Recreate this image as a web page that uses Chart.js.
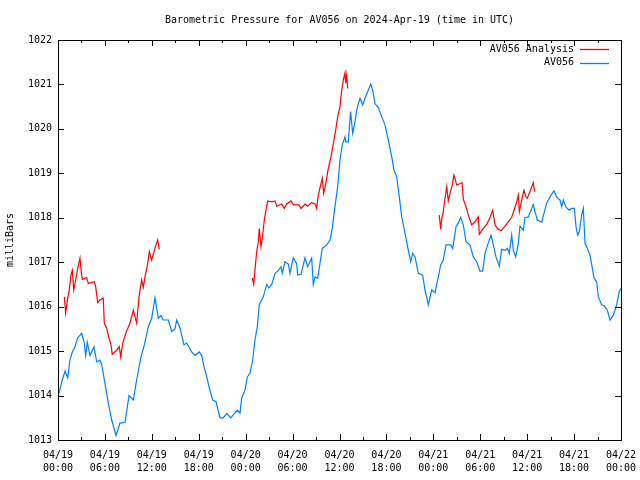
<!DOCTYPE html>
<html>
<head>
<meta charset="utf-8">
<script src="https://cdn.jsdelivr.net/npm/chart.js@4.4.1/dist/chart.umd.min.js"></script>
<style>
  html, body { margin: 0; padding: 0; background: #fff; }
  #box { width: 640px; height: 480px; }
</style>
</head>
<body>
<div id="box"><canvas id="pressureChart" width="640" height="480"></canvas></div>
<script>
// hours since 04/19 00:00 UTC, pressure in mb
const blueHours = [0.13, 0.47, 0.90, 1.24, 1.53, 1.83, 2.17, 2.52, 3.03, 3.36, 3.54, 3.75, 4.09, 4.60, 4.95, 5.37, 5.59,
  6.01, 6.43, 6.87, 7.42, 7.93, 8.57, 9.08, 9.63, 10.06, 10.61, 11.04, 11.55, 11.98, 12.41, 12.83, 13.17, 13.47,
  14.11, 14.54, 14.96, 15.18, 15.60, 16.11, 16.46, 17.10, 17.52, 18.07, 18.38, 18.67, 19.02, 19.35, 19.78, 20.21,
  20.72, 21.14, 21.57, 22.09, 22.64, 22.93, 23.28, 23.49, 23.91, 24.21, 24.55, 24.90, 25.19, 25.49, 25.74, 26.26,
  26.69, 26.98, 27.33, 27.75, 28.17, 28.52, 28.68, 29.03, 29.45, 29.67, 30.09, 30.53, 30.65, 31.08, 31.59, 31.93,
  32.44, 32.65, 32.87, 33.21, 33.51, 33.80, 34.36, 34.79, 35.08, 35.42, 35.77, 36.06, 36.36, 36.70, 36.79, 37.13,
  37.41, 37.69, 37.98, 38.20, 38.40, 38.62, 38.97, 39.26, 39.68, 39.99, 40.25, 40.54, 40.96, 41.40, 41.82, 42.24,
  42.68, 42.97, 43.32, 43.65, 43.96, 44.38, 44.80, 45.11, 45.36, 45.66, 46.08, 46.64, 46.93, 47.36, 47.79, 48.21,
  48.64, 48.94, 49.27, 49.62, 50.22, 50.48, 50.90, 51.19, 51.50, 51.83, 52.18, 52.69, 53.11, 53.55, 53.97, 54.31,
  54.61, 54.95, 55.37, 55.67, 56.01, 56.44, 56.74, 57.17, 57.46, 57.72, 58.02, 58.23, 58.53, 58.87, 59.08, 59.51,
  59.72, 60.15, 60.49, 60.78, 61.00, 61.30, 61.86, 62.15, 62.50, 62.92, 63.43, 63.78, 64.20, 64.42, 64.62, 64.97,
  65.39, 65.70, 66.03, 66.25, 66.46, 66.67, 66.97, 67.18, 67.40, 67.61, 68.04, 68.38, 68.55, 68.89, 69.10, 69.53,
  69.83, 70.25, 70.60, 71.02, 71.45, 71.78, 72.00];
const blueValues = [1014.05, 1014.3, 1014.55, 1014.4, 1014.8, 1014.98, 1015.1, 1015.3, 1015.4, 1015.18, 1014.9, 1015.2, 1014.9, 1015.1, 1014.76, 1014.8, 1014.7,
  1014.27, 1013.83, 1013.45, 1013.1, 1013.38, 1013.4, 1014.0, 1013.9, 1014.35, 1014.87, 1015.14, 1015.55, 1015.74, 1016.2, 1015.74, 1015.8, 1015.7,
  1015.7, 1015.44, 1015.5, 1015.7, 1015.52, 1015.14, 1015.18, 1014.98, 1014.9, 1014.98, 1014.9, 1014.65, 1014.42, 1014.17, 1013.9, 1013.86,
  1013.5, 1013.5, 1013.6, 1013.5, 1013.61, 1013.67, 1013.61, 1013.94, 1014.12, 1014.42, 1014.5, 1014.8, 1015.25, 1015.55, 1016.04, 1016.22,
  1016.5, 1016.42, 1016.5, 1016.75, 1016.81, 1016.9, 1016.75, 1017.01, 1016.96, 1016.75, 1017.1, 1016.96, 1016.71, 1016.73, 1017.1, 1016.9,
  1017.09, 1016.5, 1016.67, 1016.64, 1016.98, 1017.31, 1017.39, 1017.5, 1017.76, 1018.25, 1018.7, 1019.3, 1019.64, 1019.82, 1019.71, 1019.71,
  1020.39, 1019.9, 1020.16, 1020.42, 1020.57, 1020.69, 1020.54, 1020.69, 1020.87, 1021.01, 1020.87, 1020.57, 1020.48, 1020.27, 1020.09, 1019.75,
  1019.37, 1019.07, 1018.92, 1018.47, 1018.02, 1017.65, 1017.27, 1017.01, 1017.2, 1017.12, 1016.75, 1016.71, 1016.38, 1016.04, 1016.38, 1016.31,
  1016.67, 1016.94, 1017.05, 1017.39, 1017.39, 1017.31, 1017.8, 1017.88, 1018.01, 1017.84, 1017.46, 1017.39, 1017.12, 1017.01, 1016.8, 1016.8,
  1017.2, 1017.39, 1017.61, 1017.39, 1017.12, 1016.91, 1017.29, 1017.27, 1017.31, 1017.2, 1017.61, 1017.27, 1017.12, 1017.42, 1017.81, 1017.72,
  1018.0, 1018.02, 1018.17, 1018.3, 1018.14, 1017.95, 1017.9, 1018.1, 1018.33, 1018.47, 1018.61, 1018.47, 1018.4, 1018.25, 1018.4, 1018.24,
  1018.17, 1018.21, 1018.21, 1017.8, 1017.61, 1017.69, 1018.06, 1018.21, 1017.42, 1017.35, 1017.16, 1016.82, 1016.64, 1016.56, 1016.22, 1016.04,
  1016.02, 1015.92, 1015.7, 1015.81, 1016.04, 1016.34, 1016.41];

// analysis series, null = gap in the record
const redHours = [0.81, 0.98, 1.24, 1.41, 1.66, 1.83, 2.01, 2.26, 2.52, 2.81, 2.94, 3.11, 3.67, 3.87, 4.64, 4.82, 5.08,
  5.37, 5.79, 5.92, 6.23, 6.52, 6.78, 6.94, 7.51, 7.84, 8.02, 8.27, 8.66, 8.91, 9.21, 9.63, 9.85, 10.06, 10.36,
  10.70, 10.91, 11.13, 11.47, 11.68, 11.98, 12.28, 12.53, 12.75, 12.95,
  18.0,
  24.85, 25.03, 25.19, 25.41, 25.62, 25.74, 25.96, 26.13, 26.38, 26.56, 26.82, 27.33, 27.75, 27.97, 28.61, 28.94,
  29.25, 29.80, 30.09, 30.82, 31.08, 31.59, 31.93, 32.44, 32.87, 33.08, 33.29, 33.63, 33.80, 33.98, 34.24, 34.57,
  34.91, 35.21, 35.51, 35.77, 36.06, 36.28, 36.49, 36.70, 36.79, 36.92, 37.05,
  42.0,
  48.76, 48.94, 49.07, 49.27, 49.49, 49.71, 49.91, 50.13, 50.39, 50.64, 50.99, 51.32, 51.67, 51.83, 52.18, 52.47,
  52.91, 53.33, 53.75, 53.88, 54.31, 54.82, 55.16, 55.59, 55.89, 56.18, 56.65, 57.17, 57.59, 58.02, 58.32, 58.66,
  58.87, 59.00, 59.30, 59.59, 59.85, 60.02, 60.36, 60.78, 60.96];
const redValues = [1016.22, 1015.86, 1016.19, 1016.34, 1016.71, 1016.82, 1016.38, 1016.6, 1016.86, 1017.09, 1016.84, 1016.61, 1016.66, 1016.52, 1016.56, 1016.45, 1016.09,
  1016.15, 1016.19, 1015.63, 1015.51, 1015.29, 1015.14, 1014.93, 1015.02, 1015.1, 1014.87, 1015.17, 1015.4, 1015.51, 1015.63, 1015.92, 1015.77, 1015.63, 1016.22,
  1016.6, 1016.44, 1016.67, 1016.97, 1017.24, 1017.05, 1017.24, 1017.39, 1017.5, 1017.29,
  null,
  1016.64, 1016.51, 1016.82, 1017.24, 1017.46, 1017.76, 1017.35, 1017.54, 1017.95, 1018.14, 1018.38, 1018.36, 1018.38, 1018.26, 1018.31, 1018.21,
  1018.31, 1018.38, 1018.29, 1018.29, 1018.21, 1018.31, 1018.26, 1018.34, 1018.31, 1018.21, 1018.51, 1018.77, 1018.89, 1018.55, 1018.77, 1019.11,
  1019.37, 1019.67, 1019.97, 1020.27, 1020.5, 1020.87, 1021.1, 1021.26, 1021.03, 1021.21, 1020.91,
  null,
  1018.06, 1017.74, 1017.97, 1018.14, 1018.44, 1018.7, 1018.38, 1018.55, 1018.71, 1018.96, 1018.74, 1018.76, 1018.79, 1018.42, 1018.25, 1018.06,
  1017.84, 1017.91, 1018.02, 1017.63, 1017.74, 1017.85, 1017.97, 1018.17, 1017.84, 1017.76, 1017.71, 1017.81, 1017.91, 1018.01, 1018.17, 1018.36,
  1018.51, 1018.14, 1018.4, 1018.62, 1018.47, 1018.44, 1018.59, 1018.79, 1018.59];

const tickLabels = [
  ["04/19", "00:00"], ["04/19", "06:00"], ["04/19", "12:00"], ["04/19", "18:00"],
  ["04/20", "00:00"], ["04/20", "06:00"], ["04/20", "12:00"], ["04/20", "18:00"],
  ["04/21", "00:00"], ["04/21", "06:00"], ["04/21", "12:00"], ["04/21", "18:00"],
  ["04/22", "00:00"]
];

const FONT = "'DejaVu Sans Mono', 'Liberation Mono', monospace";
const pairs = (xs, ys) => xs.map((x, i) => ({ x: x, y: ys[i] }));

// frame, inward ticks on all four sides, title and gnuplot-style legend
const gnuplotBits = {
  id: "gnuplotBits",
  afterDraw(chart) {
    const ctx = chart.ctx;
    const a = chart.chartArea;
    const xs = chart.scales.x, ys = chart.scales.y;
    ctx.save();
    ctx.strokeStyle = "#000";
    ctx.lineWidth = 1;
    ctx.beginPath();
    for (let h = 0; h <= 72; h += 3) {
      const px = Math.round(xs.getPixelForValue(h)) + 0.5;
      const len = h % 6 === 0 ? 6 : 3;
      ctx.moveTo(px, a.bottom); ctx.lineTo(px, a.bottom - len);
      ctx.moveTo(px, a.top); ctx.lineTo(px, a.top + len);
    }
    for (let v = 1013; v <= 1022; v++) {
      const py = Math.round(ys.getPixelForValue(v)) + 0.5;
      ctx.moveTo(a.left, py); ctx.lineTo(a.left + 6, py);
      ctx.moveTo(a.right, py); ctx.lineTo(a.right - 6, py);
    }
    ctx.stroke();
    ctx.strokeRect(Math.round(a.left) + 0.5, Math.round(a.top) + 0.5,
      Math.round(a.right - a.left), Math.round(a.bottom - a.top));

    ctx.fillStyle = "#000";
    ctx.font = "10px " + FONT;
    ctx.textAlign = "center";
    ctx.textBaseline = "middle";
    ctx.fillText("Barometric Pressure for AV056 on 2024-Apr-19 (time in UTC)", (a.left + a.right) / 2, 20);

    ctx.textAlign = "right";
    chart.data.datasets.forEach((ds, i) => {
      const y = a.top + 9 + i * 13.5;
      ctx.fillStyle = "#000";
      ctx.fillText(ds.label, a.right - 47, y);
      ctx.strokeStyle = ds.borderColor;
      ctx.lineWidth = 1.3;
      ctx.beginPath();
      ctx.moveTo(a.right - 41, Math.round(y) + 0.5);
      ctx.lineTo(a.right - 12, Math.round(y) + 0.5);
      ctx.stroke();
    });
    ctx.restore();
  }
};

new Chart(document.getElementById("pressureChart"), {
  type: "line",
  data: {
    datasets: [
      { label: "AV056 Analysis", data: pairs(redHours, redValues), borderColor: "#ff0000",
        borderWidth: 1.2, pointRadius: 0, tension: 0, spanGaps: false },
      { label: "AV056", data: pairs(blueHours, blueValues), borderColor: "#0080ff",
        borderWidth: 1.2, pointRadius: 0, tension: 0 }
    ]
  },
  options: {
    responsive: false,
    animation: false,
    layout: { padding: { top: 40, right: 19, left: 0, bottom: 0 } },
    plugins: { legend: { display: false }, title: { display: false }, tooltip: { enabled: false } },
    scales: {
      x: {
        type: "linear", min: 0, max: 72,
        grid: { display: false, drawTicks: false }, border: { display: false },
        afterFit: s => { s.height = 40; s.paddingLeft = 0; s.paddingRight = 0; },
        ticks: {
          stepSize: 6, autoSkip: false, maxRotation: 0, padding: 9, color: "#000",
          font: { family: FONT, size: 10, lineHeight: 1.3 },
          callback: (v, i) => tickLabels[i]
        }
      },
      y: {
        min: 1013, max: 1022,
        grid: { display: false, drawTicks: false }, border: { display: false },
        afterFit: s => { s.width = 58; },
        title: { display: true, text: "milliBars", color: "#000", font: { family: FONT, size: 10 }, padding: 4 },
        ticks: { stepSize: 1, padding: 6, color: "#000", font: { family: FONT, size: 10 }, callback: v => String(v) }
      }
    }
  },
  plugins: [gnuplotBits]
});
</script>
</body>
</html>
